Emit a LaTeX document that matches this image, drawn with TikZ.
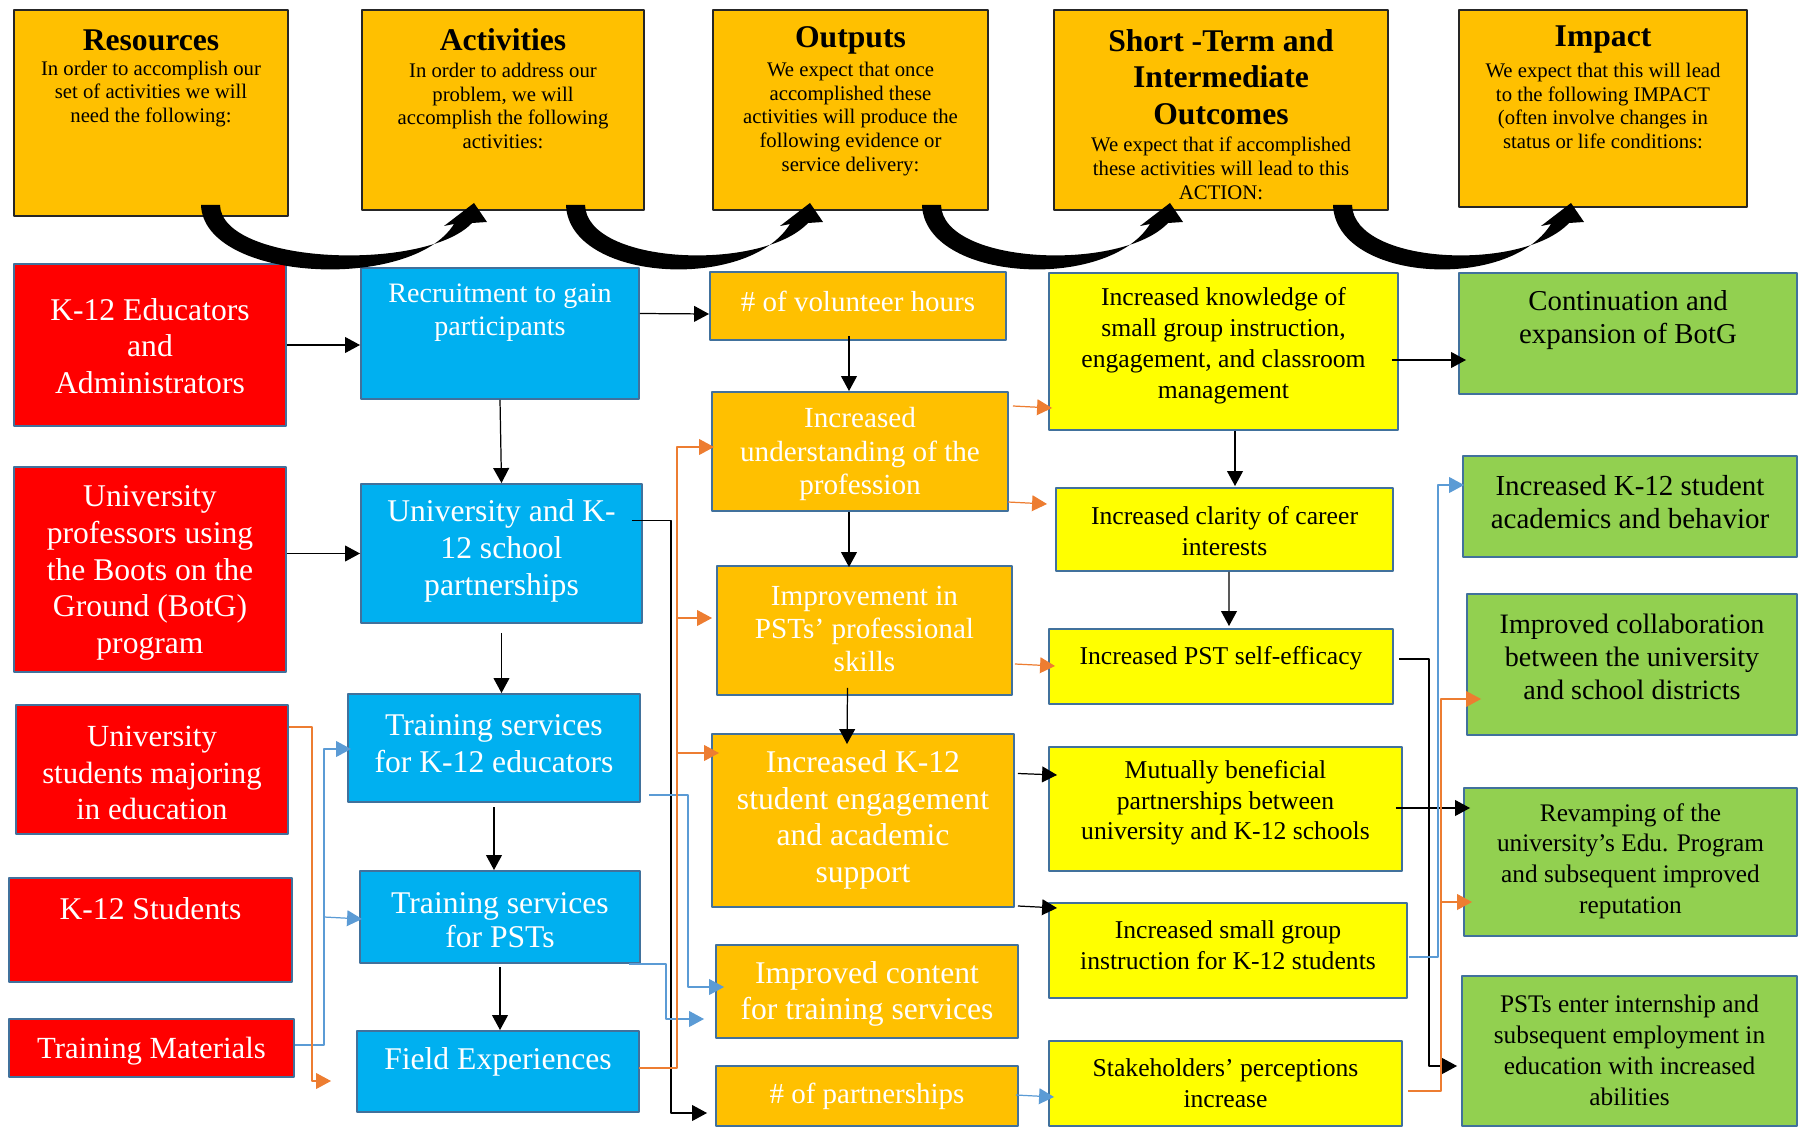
\documentclass[tikz,border=0pt]{standalone}
\usepackage{fontspec}
\setmainfont{Liberation Serif}
\usetikzlibrary{arrows.meta,calc,fit}
\definecolor{boxline}{HTML}{41719C}
\definecolor{boxred}{HTML}{FF0000}
\definecolor{boxblue}{HTML}{00B0F0}
\definecolor{boxorange}{HTML}{FFC000}
\definecolor{boxyellow}{HTML}{FFFF00}
\definecolor{boxgreen}{HTML}{92D050}
\definecolor{arrblue}{HTML}{5B9BD5}
\definecolor{arrorange}{HTML}{ED7D31}
\newcommand\hdrtitle{\fontsize{18}{20.9}\selectfont\bfseries}
\newcommand\hdrbody{\fontsize{11.8}{13.6}\selectfont}
\begin{document}
\begin{tikzpicture}[x=0.02cm,y=-0.02cm,line join=round,
  cbox/.style={draw=boxline,line width=1.1pt,inner sep=0pt},
  hbox/.style={draw=black!85,line width=0.7pt,fill=boxorange,inner sep=0pt},
  ctxt/.style={align=center,inner sep=0pt},
  blackarr/.style={draw=black,line width=0.7pt,-{Triangle[length=8.5pt,width=9pt]}},
  bluearr/.style={draw=arrblue,line width=0.7pt,-{Triangle[length=8.5pt,width=9pt]}},
  orangearr/.style={draw=arrorange,line width=0.7pt,-{Triangle[length=8.5pt,width=9pt]}}]
\useasboundingbox (0,0) rectangle (1801,1128);

\foreach \nm/\xa/\xb/\yb/\yt/\yd/\ttl/\bdy in {
  hRes/14/288/216/40/94/{Resources}/{In order to accomplish our\\set of activities we will\\need the following:},
  hAct/362/644/210/40/106/{Activities}/{In order to address our\\problem, we will\\accomplish the following\\activities:},
  hOut/713/988/210/40/119/{Outputs}/{We expect that once\\accomplished these\\activities will produce the\\following evidence or\\service delivery:},
  hST/1054/1388/210/77/168/{Short -Term and\\Intermediate\\Outcomes}/{We expect that if accomplished\\these activities will lead to this\\ACTION:},
  hImp/1459/1747/207/40/106/{Impact}/{We expect that this will lead\\to the following IMPACT\\(often involve changes in\\status or life conditions:}}
{\node[hbox,fit={(\xa,10) (\xb,\yb)}] (\nm) {};
 \node[ctxt,font=\hdrtitle] (\nm-t) at ({(\xa+\xb)/2},\yt) {\ttl};
 \node[ctxt,font=\hdrbody] (\nm-b) at ({(\xa+\xb)/2},\yd) {\bdy};}

\foreach \nm/\xa/\ya/\xb/\yb/\ty/\fs/\ls/\lbl in {
  resEdu/14/264/286/426/346/18/20.9/{K-12 Educators\\and\\Administrators},
  resProf/14/467/286/672/573/18/20.9/{University\\professors using\\the Boots on the\\Ground (BotG)\\program},
  resStud/16/705/288/834/773/17.5/20.6/{University\\students majoring\\in education},
  resK12/9/878/292/982/909/18/20.9/{K-12 Students},
  resMat/9/1019/294/1077/1051/17.5/20.6/{Training Materials}}
{\node[cbox,fill=boxred,fit={(\xa,\ya) (\xb,\yb)}] (\nm) {};
 \node[ctxt,text=white,font=\fontsize{\fs}{\ls}\selectfont] (\nm-t) at ({(\xa+\xb)/2},\ty) {\lbl};}

\foreach \nm/\xa/\ya/\xb/\yb/\ty/\fs/\ls/\lbl in {
  actRecr/361/268/639/399/313/16/18.9/{Recruitment to gain\\participants},
  actPart/361/484/642/623/551/18/21.2/{University and K-\\12 school\\partnerships},
  actTrEdu/348/694/640/802/744/18/20.9/{Training services\\for K-12 educators},
  actTrPST/360/871/640/963/920/18/19.5/{Training services\\for PSTs},
  actField/357/1031/639/1112/1062/18/20.9/{Field Experiences}}
{\node[cbox,fill=boxblue,fit={(\xa,\ya) (\xb,\yb)}] (\nm) {};
 \node[ctxt,text=white,font=\fontsize{\fs}{\ls}\selectfont] (\nm-t) at ({(\xa+\xb)/2},\ty) {\lbl};}

\foreach \nm/\xa/\ya/\xb/\yb/\ty/\fs/\ls/\lbl in {
  outHours/710/272/1006/340/301/16.5/19/{\# of volunteer hours},
  outUnder/712/392/1008/511/454/16.6/19.2/{Increased\\understanding of the\\profession},
  outSkills/717/566/1012/695/629/16.6/18.9/{Improvement in\\PSTs’ professional\\skills},
  outEngage/712/734/1014/907/820/18/20.9/{Increased K-12\\student engagement\\and academic\\support},
  outContent/716/945/1018/1038/994/18/20.2/{Improved content\\for training services},
  outPart/716/1066/1018/1126/1096/16.5/19/{\# of partnerships}}
{\node[cbox,fill=boxorange,fit={(\xa,\ya) (\xb,\yb)}] (\nm) {};
 \node[ctxt,text=white,font=\fontsize{\fs}{\ls}\selectfont] (\nm-t) at ({(\xa+\xb)/2},\ty) {\lbl};}

\foreach \nm/\xa/\ya/\xb/\yb/\ty/\fs/\ls/\lbl in {
  stKnow/1049/273/1398/430/346/14.6/17.6/{Increased knowledge of\\small group instruction,\\engagement, and classroom\\management},
  stClar/1056/488/1393/571/531/14.6/17.6/{Increased clarity of career\\interests},
  stEff/1049/629/1393/704/658/14.6/17.6/{Increased PST self-efficacy},
  stMutual/1049/747/1402/871/803/14.6/17.3/{Mutually beneficial\\partnerships between\\university and K-12 schools},
  stSmall/1049/903/1407/998/945/14.6/17.6/{Increased small group\\instruction for K-12 students},
  stPerc/1049/1041/1402/1126/1083/14.6/17.6/{Stakeholders’ perceptions\\increase}}
{\node[cbox,fill=boxyellow,fit={(\xa,\ya) (\xb,\yb)}] (\nm) {};
 \node[ctxt,text=black,font=\fontsize{\fs}{\ls}\selectfont] (\nm-t) at ({(\xa+\xb)/2},\ty) {\lbl};}

\foreach \nm/\xa/\ya/\xb/\yb/\ty/\fs/\ls/\lbl in {
  impCont/1459/273/1797/394/320/16.4/18.9/{Continuation and\\expansion of BotG},
  impAcad/1463/456/1797/557/502/16.5/18.9/{Increased K-12 student\\academics and behavior},
  impCollab/1467/594/1797/735/657/16/18.9/{Improved collaboration\\between the university\\and school districts},
  impRevamp/1464/788/1797/936/861/14.4/17.4/{Revamping of the\\university’s Edu. Program\\and subsequent improved\\reputation},
  impPST/1462/976/1797/1126/1050/14.4/17.6/{PSTs enter internship and\\subsequent employment in\\education with increased\\abilities}}
{\node[cbox,fill=boxgreen,fit={(\xa,\ya) (\xb,\yb)}] (\nm) {};
 \node[ctxt,text=black,font=\fontsize{\fs}{\ls}\selectfont] (\nm-t) at ({(\xa+\xb)/2},\ty) {\lbl};}

\foreach \sx/\ex in {202/474,567/810,923/1170,1334/1571}{
  \fill (\sx-1,205) .. controls (\sx+2,282) and (\ex-62,292) .. (\ex-20,224) -- (\ex-30,226) -- (\ex,203) -- (\ex+13,222) -- (\ex-2,223) .. controls (\ex-48,272) and (\sx+20,265) .. (\sx+18,205) -- cycle;}

\draw[blackarr] (resEdu.east) -- (resEdu.east -| actRecr.west);
\draw[blackarr] (actPart.west -| resProf.east) -- (actPart.west);
\draw[blackarr] (actRecr.south) -- (actPart.north);
\draw[blackarr,shorten <=5pt] (actPart.south) -- (actPart.south |- actTrEdu.north);
\draw[blackarr,shorten <=2.5pt] (actTrEdu.south) -- (actTrEdu.south |- actTrPST.north);
\draw[blackarr,shorten <=2pt] (actTrPST.south) -- (actTrPST.south |- actField.north);
\draw[blackarr] ($(actRecr.east)+(0,-20)$) -- ($(outHours.west)+(0,8)$);
\draw[blackarr] ($(outHours.south)+(-9,-5)$) -- ($(outUnder.north)+(-11,0)$);
\draw[blackarr] ($(outUnder.south)+(-11,0)$) -- ($(outSkills.north)+(-15.5,2)$);
\draw[blackarr] ($(outSkills.south)+(-17,-8)$) -- ($(outEngage.north)+(-16,11)$);
\draw[blackarr] ($(actPart.east)+(-11,-33)$) -- ++(39,0) |- ($(outPart.west)+(-8,17)$);
\draw[blackarr] ($(outEngage.east)+(3,-47)$) -- ($(stMutual.west)+(9,-34)$);
\draw[blackarr] ($(outEngage.east)+(3,85.5)$) -- ($(stSmall.west)+(9,-42.5)$);
\draw[blackarr] ($(stKnow.east)+(-7,8.5)$) -- ($(impCont.west)+(8,26.5)$);
\draw[blackarr] ($(stKnow.south)+(11.5,0)$) -- ($(stClar.north)+(10.5,-1)$);
\draw[blackarr] ($(stClar.south)+(4.5,0)$) -- ($(stEff.north)+(8,-2)$);
\draw[blackarr] ($(stEff.east)+(5,-7.5)$) -- ++(30,0) |- ($(impPST.west)+(-4,15)$);
\draw[blackarr] ($(stMutual.east)+(-7,-1)$) -- ($(impRevamp.west)+(7,-54)$);

\draw[bluearr] ($(resMat.east)+(0,-3)$) -- ++(29,0) coordinate (matTurn) |- ($(actTrEdu.west)+(4,1)$);
\draw[bluearr] (matTurn |- actTrPST.west) -- ($(actTrPST.west)+(3,2)$);
\draw[bluearr] ($(actTrEdu.east)+(8,47)$) -- ++(39,0) |- ($(outContent.west)+(9,-4.5)$);
\draw[bluearr] ($(actTrPST.south east)+(-12,0)$) -- ++(37,0) |- ($(outContent.west)+(-11,27.5)$);
\draw[bluearr] ($(outPart.east)+(-3,-1)$) -- ($(stPerc.west)+(6,13.5)$);
\draw[bluearr] ($(stSmall.east)+(1,6.5)$) -- ++(29,0) |- ($(impAcad.west)+(2,-21.5)$);

\draw[orangearr] ($(resStud.east)+(0,-42.5)$) -- ++(23,0) |- ($(actField.west)+(-25,9.5)$);
\draw[orangearr] ($(actField.east)+(-1,-3.5)$) -- ++(38,0) coordinate (fieldTurn) |- ($(outUnder.west)+(3,-4.5)$);
\coordinate (skillTip) at ($(outSkills.west)+(-4,-12.5)$);
\draw[orangearr] (fieldTurn |- skillTip) -- (skillTip);
\coordinate (engTip) at ($(outEngage.west)+(8,-67.5)$);
\draw[orangearr] (fieldTurn |- engTip) -- (engTip);
\draw[orangearr] ($(outUnder.east)+(4,-45.5)$) -- ($(stKnow.west)+(4,56.5)$);
\draw[orangearr] ($(outUnder.east)+(-1,50.5)$) -- ($(stClar.west)+(-8,-25.5)$);
\draw[orangearr] ($(outSkills.east)+(2,33.5)$) -- ($(stEff.west)+(7,-0.5)$);
\draw[orangearr] ($(stPerc.east)+(5,7.5)$) -- ++(33,0) coordinate (percTurn) |- ($(impCollab.west)+(15,34.5)$);
\coordinate (revTip) at ($(impRevamp.west)+(9,40)$);
\draw[orangearr] (percTurn |- revTip) -- (revTip);
\end{tikzpicture}
\end{document}
